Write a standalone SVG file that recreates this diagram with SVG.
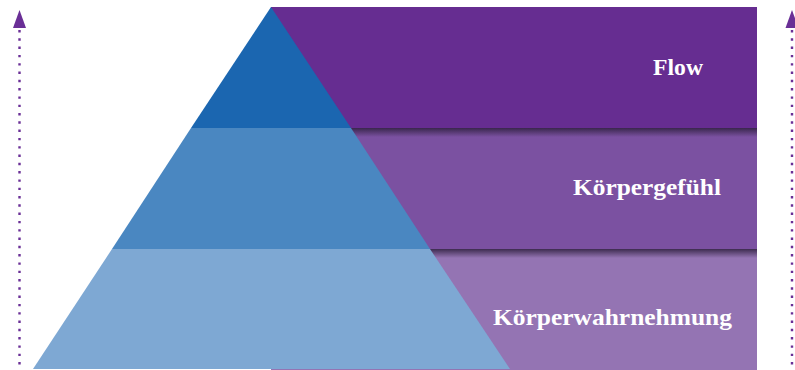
<svg xmlns="http://www.w3.org/2000/svg" width="795" height="370" viewBox="0 0 795 370">
<style>
.lbl{font-family:"Liberation Serif","Times New Roman",serif;font-weight:bold;font-size:24px;fill:#FFFFFF}
.dots{stroke:#6A2F96;stroke-width:2.4;stroke-dasharray:2.4 5.9;fill:none}
.head{fill:#6A2F96}
</style>
<defs>
<linearGradient id="shadow" x1="0" y1="0" x2="0" y2="1">
<stop offset="0" stop-color="#2E1F3E" stop-opacity="0.85"/>
<stop offset="1" stop-color="#2E1F3E" stop-opacity="0"/>
</linearGradient>
</defs>
<rect width="795" height="370" fill="#FFFFFF"/>
<g id="band-flow">
<rect x="271" y="7" width="486" height="121" fill="#662D91"/>
<text class="lbl" x="653" y="75" textLength="50" lengthAdjust="spacingAndGlyphs">Flow</text>
</g>
<g id="band-koerpergefuehl">
<rect x="271" y="128" width="486" height="121" fill="#7B51A1"/>
<rect x="271" y="128" width="486" height="9" fill="url(#shadow)"/>
<text class="lbl" x="573" y="195" textLength="148" lengthAdjust="spacingAndGlyphs">Körpergefühl</text>
</g>
<g id="band-koerperwahrnehmung">
<rect x="271" y="249" width="486" height="121" fill="#9474B3"/>
<rect x="271" y="249" width="486" height="9" fill="url(#shadow)"/>
<text class="lbl" x="493" y="325" textLength="239" lengthAdjust="spacingAndGlyphs">Körperwahrnehmung</text>
</g>
<g id="pyramid">
<polygon id="tier-top" points="271,7 351,128 191,128" fill="#1B66B0"/>
<polygon id="tier-middle" points="191,128 351,128 430,249 112,249" fill="#4A87C1"/>
<polygon id="tier-bottom" points="112,249 430,249 510,369 33,369" fill="#7EA8D3"/>
</g>
<g id="connectors">
<line class="dots" x1="19.5" y1="30" x2="19.5" y2="370"/>
<polygon class="head" points="19.5,10 26,28 13,28"/>
<line class="dots" x1="792" y1="30" x2="792" y2="370"/>
<polygon class="head" points="792,10 798.5,28 785.5,28"/>
</g>
</svg>
